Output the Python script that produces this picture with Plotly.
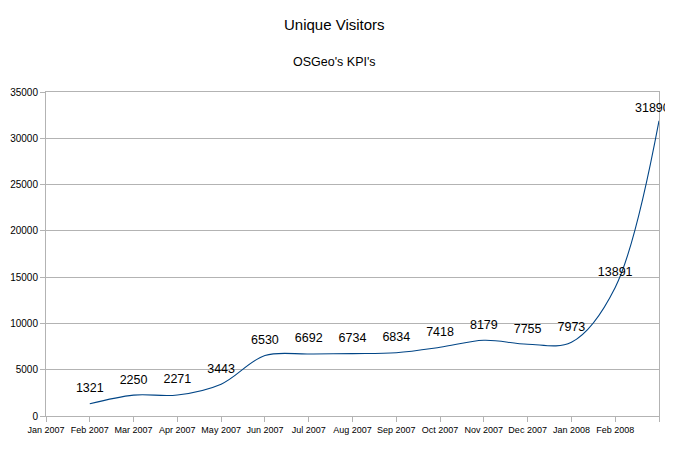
import plotly.graph_objects as go

months = ["Jan 2007", "Feb 2007", "Mar 2007", "Apr 2007", "May 2007", "Jun 2007",
          "Jul 2007", "Aug 2007", "Sep 2007", "Oct 2007", "Nov 2007", "Dec 2007",
          "Jan 2008", "Feb 2008", ""]
visitors = [1321, 2250, 2271, 3443, 6530, 6692, 6734, 6834, 7418, 8179, 7755, 7973, 13891, 31890]
point_pos = list(range(1, len(visitors) + 1))
y_ticks = [0, 5000, 10000, 15000, 20000, 25000, 30000, 35000]

FONT = "Liberation Sans, Arial, sans-serif"

# page has an 8px body margin, so figure coordinates are offset by 8px
OFF = 8
W, H = 673, 457
L, T, R, B = 46 - OFF, 92 - OFF, W + OFF - 659, H + OFF - 416
plot_w = W - L - R
plot_h = H - T - B

labels = [str(v) for v in visitors]

fig = go.Figure()
fig.add_trace(go.Scatter(
    x=point_pos, y=visitors, mode="lines+markers+text",
    text=labels[:-1] + [""], textposition="top center",
    textfont=dict(family=FONT, size=12.5, color="#000000"),
    marker=dict(size=12, color="rgba(0,0,0,0)"),
    line=dict(color="#004586", width=1.1, shape="spline", smoothing=1.0),
    cliponaxis=False, hoverinfo="skip", showlegend=False,
))

axis_common = dict(showline=True, linecolor="#b3b3b3", linewidth=1, mirror=True,
                   ticks="outside", tickcolor="#b3b3b3", ticklen=5, automargin=False,
                   zeroline=False)

fig.update_xaxes(range=[0, 14], tickvals=list(range(len(months))), ticktext=months,
                 tickangle=0, tickfont=dict(family=FONT, size=9, color="#000000"),
                 showgrid=False, **axis_common)
fig.update_yaxes(range=[0, 35000], tickvals=y_ticks, ticktext=[str(t) for t in y_ticks],
                 tickfont=dict(family=FONT, size=10, color="#000000"),
                 showgrid=True, gridcolor="#b3b3b3", gridwidth=1, **axis_common)


def px_x(x):
    return (x - OFF - L) / plot_w


def px_y(y):
    return (H - B - (y - OFF)) / plot_h


fig.update_layout(
    width=W, height=H,
    margin=dict(l=L, r=R, t=T, b=B),
    paper_bgcolor="white", plot_bgcolor="white",
    font=dict(family=FONT),
    annotations=[
        dict(text="Unique Visitors", x=px_x(334), y=px_y(25),
             xref="paper", yref="paper", showarrow=False, xanchor="center", yanchor="middle",
             font=dict(family=FONT, size=15, color="#000000")),
        dict(text="OSGeo's KPI's", x=px_x(334), y=px_y(62),
             xref="paper", yref="paper", showarrow=False, xanchor="center", yanchor="middle",
             font=dict(family=FONT, size=12.5, color="#000000")),
        # last data label, kept inside the visible window
        dict(text=labels[-1], x=point_pos[-1], y=visitors[-1], xref="x", yref="y",
             showarrow=False, xanchor="right", yanchor="bottom", xshift=13, yshift=4,
             font=dict(family=FONT, size=12.5, color="#000000")),
    ],
)

fig.write_html("out.html")
